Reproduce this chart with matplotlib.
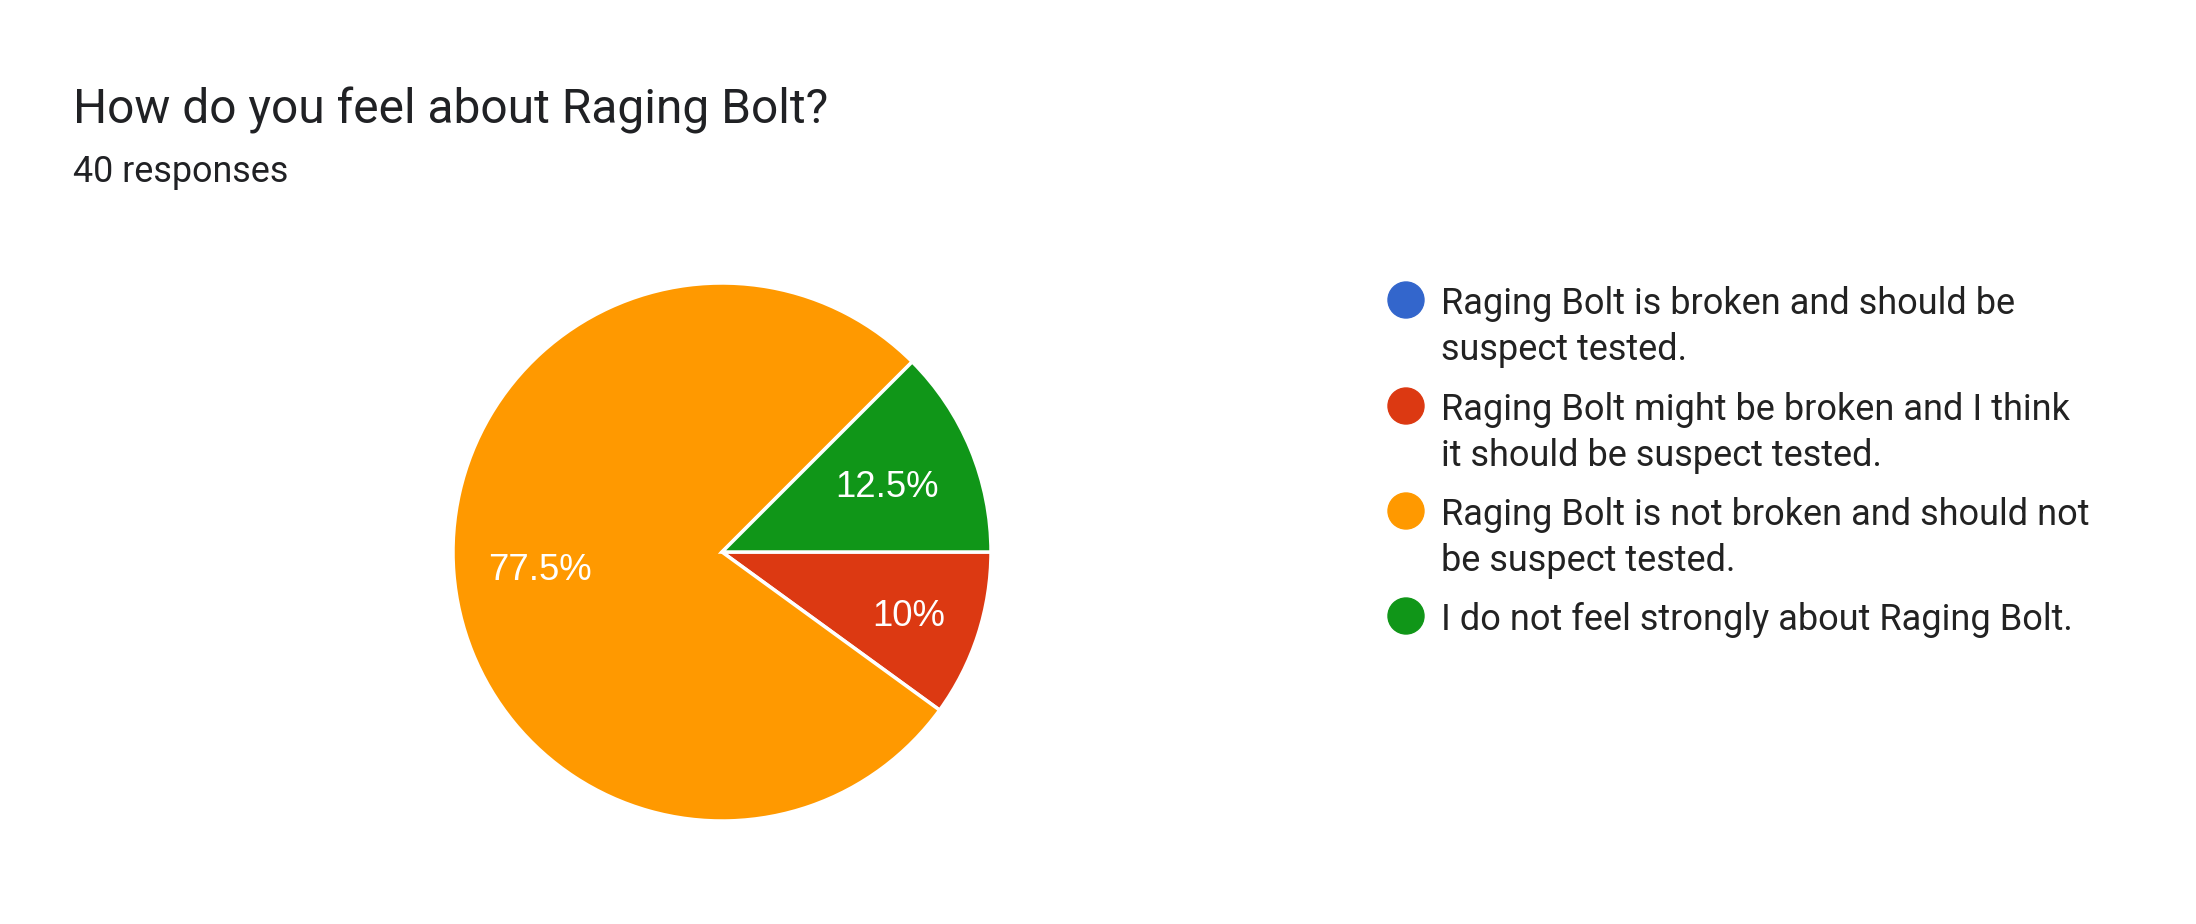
import matplotlib
matplotlib.use("Agg")
import matplotlib.pyplot as plt
import matplotlib.transforms as mtransforms
import numpy as np
from matplotlib.patches import Circle

# ---- data ----
title = "How do you feel about Raging Bolt?"
subtitle = "40 responses"
categories = [
    "Raging Bolt is broken and should be\nsuspect tested.",
    "Raging Bolt might be broken and I think\nit should be suspect tested.",
    "Raging Bolt is not broken and should not\nbe suspect tested.",
    "I do not feel strongly about Raging Bolt.",
]
counts = [0, 4, 31, 5]
colors = ["#3366CC", "#DC3912", "#FF9900", "#109618"]

W, H = 2196, 924
DPI = 100
fig = plt.figure(figsize=(W / DPI, H / DPI), dpi=DPI)
fig.patch.set_facecolor("white")

def fx(px):
    return px / W

def fy(py):
    return 1 - py / H

# Title and subtitle
fig.text(fx(73), fy(123), title, fontsize=34.5, family="Roboto", color="#202124", va="baseline", ha="left")
fig.text(fx(73), fy(182), subtitle, fontsize=25.8, family="Roboto", color="#202124", va="baseline", ha="left")

# Pie
cx, cy, r = 722, 552, 269
ax = fig.add_axes([fx(cx - r), (H - cy - r) / H, 2 * r / W, 2 * r / H])
vals = [v for v in counts if v > 0]
cols = [c for v, c in zip(counts, colors) if v > 0]
wedges, texts, autotexts = ax.pie(
    vals, colors=cols, startangle=0, counterclock=False,
    autopct=lambda p: f"{p:.1f}%".replace(".0%", "%"),
    pctdistance=0.69,
    wedgeprops=dict(edgecolor="white", linewidth=2.5),
    textprops=dict(color="white", fontsize=26.3, family="Liberation Sans"),
)
label_dist = [0.73, 0.68, 0.665]
shifted = mtransforms.offset_copy(ax.transData, fig=fig, x=0, y=-3, units="points")
for w, t, d in zip(wedges, autotexts, label_dist):
    mid = np.deg2rad((w.theta1 + w.theta2) / 2)
    t.set_position((d * np.cos(mid), d * np.sin(mid)))
    t.set_transform(shifted)
ax.set_xlim(-1, 1)
ax.set_ylim(-1, 1)
ax.set_aspect("equal")
ax.axis("off")

# Legend
lx_circle = 1406
lx_text = 1441
item_y = [300, 406, 511, 616]
lax = fig.add_axes([0, 0, 1, 1], facecolor="none")
lax.set_xlim(0, W)
lax.set_ylim(H, 0)
lax.axis("off")
for lab, col, y in zip(categories, colors, item_y):
    lax.add_patch(Circle((lx_circle, y), 18, color=col))
    lines = lab.split("\n")
    for i, line in enumerate(lines):
        lax.text(lx_text, y + 14 + i * 46, line, fontsize=26, family="Roboto",
                 color="#222222", va="baseline", ha="left")
lax.set_aspect("auto")

fig.savefig("out.png", dpi=DPI, facecolor="white")
